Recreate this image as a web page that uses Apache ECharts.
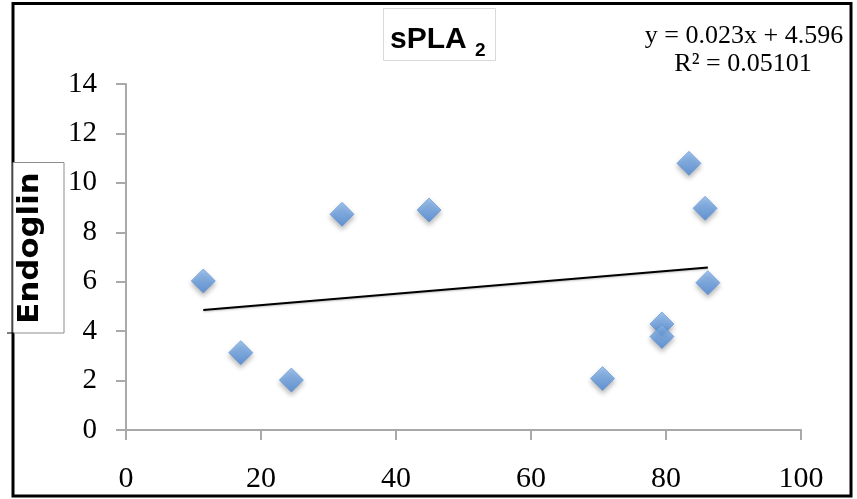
<!DOCTYPE html>
<html>
<head>
<meta charset="utf-8">
<script src="https://cdn.jsdelivr.net/npm/echarts@6/dist/echarts.min.js"></script>
<style>
  html, body { margin: 0; padding: 0; background: #fff; }
  #chart { width: 857px; height: 499px; }
</style>
</head>
<body>
<div id="chart"></div>
<script>
// sPLA2 (x) against Endoglin (y), one marker per sample
const splaValues = [11.45, 17.0, 24.5, 32.0, 44.9, 70.6, 79.4, 79.4, 83.4, 85.8, 86.2];
const endoglinValues = [6.03, 3.13, 2.02, 8.73, 8.90, 2.08, 4.29, 3.78, 10.79, 8.97, 5.96];

// Linear trendline as reported on the chart
const trendSlope = 0.023;
const trendIntercept = 4.596;
const trendR2 = 0.05101;

const xTicks = [0, 20, 40, 60, 80, 100];
const yTicks = [0, 2, 4, 6, 8, 10, 12, 14];

const points = splaValues.map((x, i) => [x, endoglinValues[i]]);
const xMin = Math.min(...splaValues);
const xMax = Math.max(...splaValues);
const trendPoints = [
  [xMin, trendSlope * xMin + trendIntercept],
  [xMax, trendSlope * xMax + trendIntercept]
];

const serif = '"Liberation Serif", "Times New Roman", serif';
const axisGray = '#a9a9a9';

const chart = echarts.init(document.getElementById('chart'), null, { renderer: 'canvas' });

chart.setOption({
  animation: false,
  backgroundColor: '#ffffff',
  grid: { left: 126, right: 56, top: 84, bottom: 69, containLabel: false },
  xAxis: {
    type: 'value',
    min: xTicks[0],
    max: xTicks[xTicks.length - 1],
    interval: xTicks[1] - xTicks[0],
    axisLine: { show: true, lineStyle: { color: axisGray, width: 2 } },
    axisTick: { show: true, inside: false, length: 10, lineStyle: { color: axisGray, width: 2 } },
    axisLabel: { color: '#000', fontFamily: serif, fontSize: 30, margin: 34 },
    splitLine: { show: false }
  },
  yAxis: {
    type: 'value',
    min: yTicks[0],
    max: yTicks[yTicks.length - 1],
    interval: yTicks[1] - yTicks[0],
    axisLine: { show: true, onZero: false, lineStyle: { color: axisGray, width: 2 } },
    axisTick: { show: true, inside: false, length: 10, lineStyle: { color: axisGray, width: 2 } },
    axisLabel: { color: '#000', fontFamily: serif, fontSize: 29, margin: 29 },
    splitLine: { show: false }
  },
  series: [
    {
      name: 'Trendline',
      type: 'line',
      data: trendPoints,
      symbol: 'none',
      lineStyle: { color: '#000', width: 2, shadowColor: 'rgba(0,0,0,0.25)', shadowBlur: 2, shadowOffsetY: 1 },
      z: 2
    },
    {
      name: 'Endoglin',
      type: 'scatter',
      data: points,
      symbol: 'diamond',
      symbolSize: 24,
      itemStyle: {
        color: new echarts.graphic.LinearGradient(0, 0, 0, 1, [
          { offset: 0, color: '#8cbaef' },
          { offset: 1, color: '#4a87d6' }
        ]),
        borderColor: '#5a8fd3',
        borderWidth: 0.8,
        shadowColor: 'rgba(0,0,0,0.35)',
        shadowBlur: 5,
        shadowOffsetY: 3
      },
      z: 3
    }
  ],
  graphic: [
    // outer frame
    {
      type: 'rect',
      shape: { x: 13, y: 3.5, width: 838, height: 492.5 },
      style: { fill: 'none', stroke: '#000', lineWidth: 3 },
      silent: true
    },
    // chart title box
    {
      type: 'rect',
      shape: { x: 383.5, y: 8.5, width: 112, height: 52 },
      style: { fill: '#fff', stroke: '#d9d9d9', lineWidth: 1 },
      silent: true
    },
    {
      type: 'text',
      x: 390, y: 40,
      style: {
        text: 'sPLA',
        fontFamily: '"Liberation Sans", Arial, sans-serif',
        fontWeight: 'bold',
        fontSize: 30,
        fill: '#000',
        align: 'left',
        verticalAlign: 'middle'
      }
    },
    {
      type: 'text',
      x: 475, y: 51,
      style: {
        text: '2',
        fontFamily: '"Liberation Sans", Arial, sans-serif',
        fontWeight: 'bold',
        fontSize: 19,
        fill: '#000',
        align: 'left',
        verticalAlign: 'middle'
      }
    },
    // trendline equation
    {
      type: 'text',
      x: 744, y: 36,
      style: {
        text: 'y = ' + trendSlope + 'x + ' + trendIntercept,
        fontFamily: serif,
        fontSize: 26,
        fill: '#000',
        align: 'center',
        verticalAlign: 'middle'
      }
    },
    {
      type: 'text',
      x: 743, y: 64,
      style: {
        text: 'R² = ' + trendR2,
        fontFamily: serif,
        fontSize: 26,
        fill: '#000',
        align: 'center',
        verticalAlign: 'middle'
      }
    },
    // y axis title box
    {
      type: 'rect',
      shape: { x: 13, y: 162.5, width: 51, height: 170.5 },
      style: { fill: '#fff', stroke: '#8c8c8c', lineWidth: 1 },
      silent: true
    },
    {
      type: 'line',
      shape: { x1: 7, y1: 333, x2: 14, y2: 333 },
      style: { stroke: '#000', lineWidth: 1 }
    },
    {
      type: 'text',
      x: 31, y: 248,
      rotation: Math.PI / 2,
      scaleX: 1.1,
      style: {
        text: 'Endoglin',
        fontFamily: '"DejaVu Sans", Verdana, sans-serif',
        fontWeight: 'bold',
        fontSize: 28,
        fill: '#000',
        align: 'center',
        verticalAlign: 'middle'
      }
    }
  ]
});
</script>
</body>
</html>
